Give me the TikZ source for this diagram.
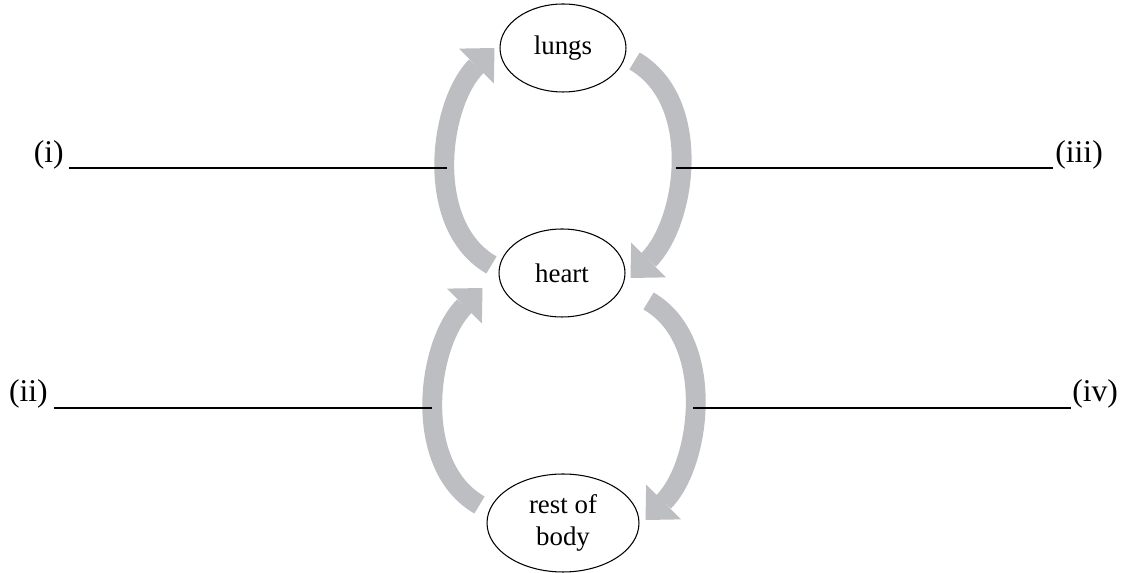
\documentclass[tikz,border=0pt]{standalone}
\usepackage{fontspec}
\setmainfont{Liberation Serif}
\usetikzlibrary{shapes.geometric,arrows.meta}
\definecolor{flowgray}{RGB}{189,190,194}
\tikzset{
  organ/.style={draw, ellipse, line width=0.6pt, inner sep=0pt,
    minimum width=2.52cm, minimum height=1.76cm,
    font=\fontsize{15.3}{18}\selectfont, align=center},
  flow/.style={draw=flowgray, line width=11.3pt,
    -{Triangle[length=14.5pt,width=28pt,line width'=0pt]}},
  blank/.style={line width=0.6pt},
  tag/.style={inner sep=0pt, font=\fontsize{18}{20}\selectfont}
}
\begin{document}
\begin{tikzpicture}[x=0.02cm,y=-0.02cm]
  \useasboundingbox (0,0) rectangle (1123,573);
  \draw
    (563,48) node[organ] (lungs){lungs}
    (562,273) node[organ] (heart){heart}
    (563,523) node[organ, minimum width=3.04cm, minimum height=1.96cm] (body){rest of\\body};
  % circulation
  \begin{scope}
    \draw[flow] ([shift={(-7,-8)}]heart.west) .. controls +(-68,-39) and +(-56,56) .. ([shift={(-5,0)}]lungs.west);
    \draw[flow] ([shift={(8,13)}]lungs.east) .. controls +(69,40) and +(56,-56) .. ([shift={(5,5)}]heart.east);
    \draw[flow] ([shift={(-7,-18)}]body.west) .. controls +(-68,-39) and +(-56,56) .. ([shift={(-16,15)}]heart.west);
    \draw[flow] ([shift={(23,28)}]heart.east) .. controls +(68,39) and +(56,-56) .. ([shift={(6,-3)}]body.east);
  \end{scope}
  % answer lines
  \coordinate (i-a) at (69,168);
  \coordinate (i-b) at (447,168);
  \coordinate (ii-a) at (54,408);
  \coordinate (ii-b) at (432,408);
  \coordinate (iii-a) at (676,168);
  \coordinate (iii-b) at (1053,168);
  \coordinate (iv-a) at (693,408);
  \coordinate (iv-b) at (1071,408);
  \draw[blank] (i-a) -- (i-b);
  \draw[blank] (ii-a) -- (ii-b);
  \draw[blank] (iii-a) -- (iii-b);
  \draw[blank] (iv-a) -- (iv-b);
  \draw
    (64,162.5) node[tag, anchor=base east] (lab-i){(i)}
    (48,401.5) node[tag, anchor=base east] (lab-ii){(ii)}
    (1055,162.5) node[tag, anchor=base west] (lab-iii){(iii)}
    (1072,401.5) node[tag, anchor=base west] (lab-iv){(iv)};
\end{tikzpicture}
\end{document}
